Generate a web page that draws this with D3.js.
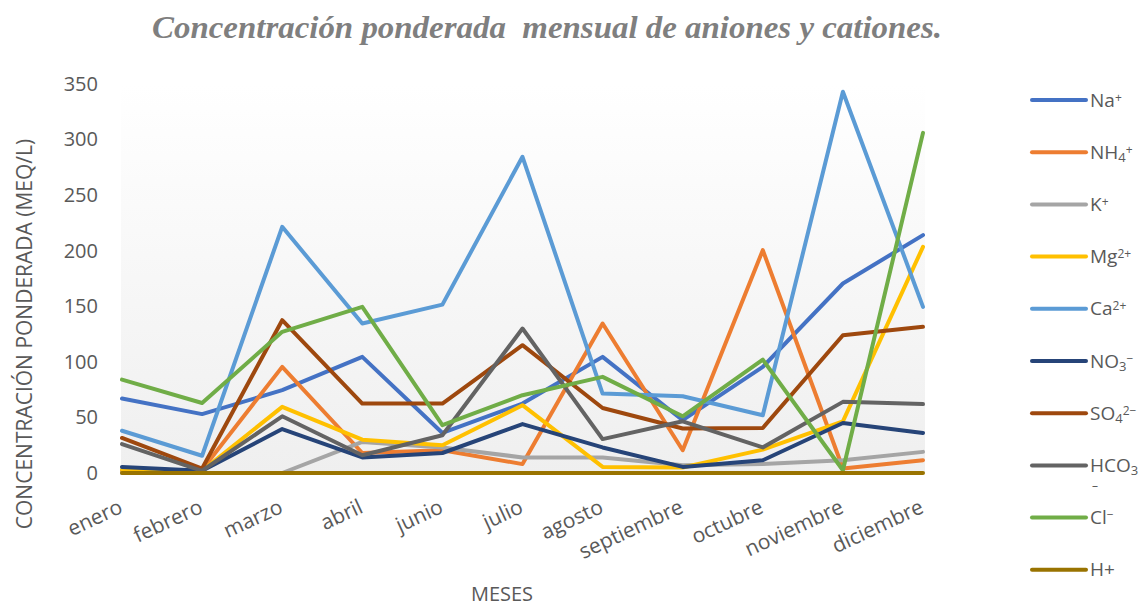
<!DOCTYPE html>
<html>
<head>
<meta charset="utf-8">
<script src="https://cdn.jsdelivr.net/npm/d3@7"></script>
<style>
  body { margin: 0; background: #fff; }
  text { font-family: "Open Sans", sans-serif; }
</style>
</head>
<body>
<svg id="chart" width="1142" height="609"></svg>
<script>
// months on the x axis (no "mayo" in the source)
const months = ["enero", "febrero", "marzo", "abril", "junio", "julio", "agosto",
                "septiembre", "octubre", "noviembre", "diciembre"];
const yTicks = [0, 50, 100, 150, 200, 250, 300, 350];

// series values (meq/L)
const na   = [67, 53, 74.5, 104.5, 36, 62.5, 104.5, 47.5, 95.5, 170.5, 214];
const nh4  = [2, 3, 95.5, 18, 20.5, 8, 134.5, 20.5, 200.5, 4, 11.5];
const k    = [0, 0, 0, 28, 23, 14, 14, 7, 8, 11.5, 19];
const mg   = [3, 2, 59.5, 30, 25, 61, 5.5, 5, 21, 46.5, 203.5];
const ca   = [38, 15.5, 221.5, 134.5, 151.5, 284.5, 71.5, 69, 52, 343, 149.5];
const no3  = [5.5, 2, 39.5, 14, 18, 44, 23, 5.5, 11.5, 45, 36];
const so4  = [31.5, 4, 137.5, 62.5, 62.5, 115, 58.5, 40, 40.5, 124, 131.5];
const hco3 = [26, 2, 51, 16, 34, 130, 30.5, 46.5, 23, 64, 62];
const cl   = [84, 63, 127, 149.5, 43, 70, 86.5, 51, 102, 2.5, 306];
const hPlus = [0, 0, 0, 0, 0, 0, 0, 0, 0, 0, 0];

const series = [
  { label: [["Na"], ["+", "sup"]], color: "#4472C4", values: na },
  { label: [["NH"], ["4", "sub"], ["+", "sup"]], color: "#ED7D31", values: nh4 },
  { label: [["K"], ["+", "sup"]], color: "#A5A5A5", values: k },
  { label: [["Mg"], ["2+", "sup"]], color: "#FFC000", values: mg },
  { label: [["Ca"], ["2+", "sup"]], color: "#5B9BD5", values: ca },
  { label: [["NO"], ["3", "sub"], ["\u2212", "sup"]], color: "#264478", values: no3 },
  { label: [["SO"], ["4", "sub"], ["2\u2212", "sup"]], color: "#9E480E", values: so4 },
  { label: [["HCO"], ["3", "sub"], ["\u2013", "wrap"]], color: "#636363", values: hco3 },
  { label: [["Cl"], ["\u2212", "sup"]], color: "#70AD47", values: cl },
  { label: [["H+"]], color: "#997300", values: hPlus }
];

const svg = d3.select("#chart");
const textColor = "#595959";

const x = d3.scalePoint().domain(months).range([122, 923]);
const y = d3.scaleLinear().domain([0, 350]).range([473, 84]);

// plot area background (soft vertical gradient)
const grad = svg.append("defs").append("linearGradient")
  .attr("id", "bg").attr("x1", 0).attr("y1", 0).attr("x2", 0).attr("y2", 1);
grad.append("stop").attr("offset", "0%").attr("stop-color", "#ffffff");
grad.append("stop").attr("offset", "100%").attr("stop-color", "#efefef");

svg.append("rect")
  .attr("x", 121).attr("y", y(350))
  .attr("width", 925 - 121).attr("height", y(0) - y(350))
  .attr("fill", "url(#bg)");

// title
svg.append("text")
  .attr("x", 547).attr("y", 38)
  .attr("text-anchor", "middle")
  .attr("textLength", 790)
  .attr("lengthAdjust", "spacingAndGlyphs")
  .style("white-space", "pre")
  .style("font-family", "'Liberation Serif', serif")
  .style("font-weight", "bold")
  .style("font-style", "italic")
  .style("font-size", "31px")
  .attr("fill", "#7f7f7f")
  .text("Concentración ponderada  mensual de aniones y cationes.");

// y axis
const yAxis = svg.append("g")
  .attr("transform", "translate(121,0)")
  .call(d3.axisLeft(y).tickValues(yTicks).tickSize(0).tickPadding(23));
yAxis.select(".domain").remove();
yAxis.selectAll("text")
  .attr("fill", textColor)
  .style("font-size", "20px")
  .style("font-family", "'Open Sans', sans-serif");

// x axis labels, rotated like the source
svg.append("g").selectAll("text")
  .data(months)
  .join("text")
  .attr("transform", d => `translate(${x(d) + 2},512) rotate(-25)`)
  .attr("text-anchor", "end")
  .attr("fill", textColor)
  .style("font-size", "21px")
  .text(d => d);

// axis titles
svg.append("text")
  .attr("transform", "translate(32,334) rotate(-90)")
  .attr("text-anchor", "middle")
  .attr("fill", textColor)
  .style("font-size", "21px")
  .text("CONCENTRACIÓN PONDERADA (MEQ/L)");

svg.append("text")
  .attr("x", 502).attr("y", 601)
  .attr("text-anchor", "middle")
  .attr("fill", textColor)
  .style("font-size", "20px")
  .text("MESES");

// lines
const line = d3.line()
  .x((d, i) => x(months[i]))
  .y(d => y(d));

svg.append("g").selectAll("path")
  .data(series)
  .join("path")
  .attr("d", d => line(d.values))
  .attr("fill", "none")
  .attr("stroke", d => d.color)
  .attr("stroke-width", 4)
  .attr("stroke-linejoin", "round")
  .attr("stroke-linecap", "round");

// legend
const legend = svg.append("g").selectAll("g")
  .data(series)
  .join("g")
  .attr("transform", (d, i) => `translate(1032,${100 + i * 52.2})`);

legend.append("line")
  .attr("x1", 0).attr("x2", 54)
  .attr("stroke", d => d.color)
  .attr("stroke-width", 4)
  .attr("stroke-linecap", "round");

legend.each(function (d) {
  const t = d3.select(this).append("text")
    .attr("x", 58).attr("dy", "0.35em")
    .attr("fill", textColor)
    .style("font-size", "19px");
  d.label.forEach(([s, kind]) => {
    const ts = t.append("tspan").text(s);
    if (kind === "sup") ts.attr("baseline-shift", "45%").style("font-size", "12px");
    if (kind === "sub") ts.attr("baseline-shift", "-20%").style("font-size", "13px");
    // the source wraps the HCO3 charge onto a second line
    if (kind === "wrap") ts.attr("x", 60).attr("dy", "1.5em").style("font-size", "12px");
  });
});
</script>
</body>
</html>
